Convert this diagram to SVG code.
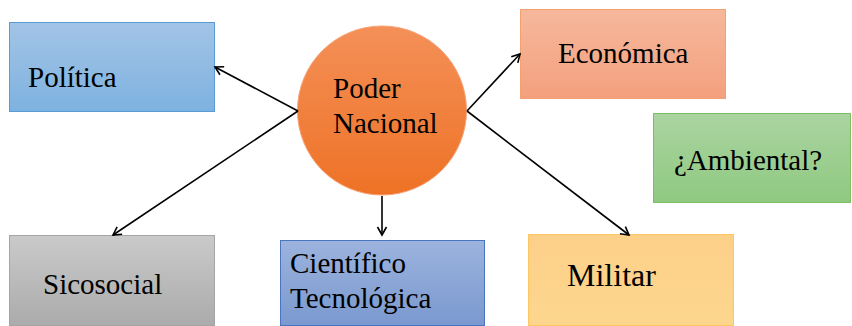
<svg xmlns="http://www.w3.org/2000/svg" width="852" height="326" viewBox="0 0 852 326" font-family="'Liberation Serif', 'DejaVu Serif', serif">
<defs>
<linearGradient id="gBlue" x1="0" y1="0" x2="0" y2="1"><stop offset="0" stop-color="#A2C4E6"/><stop offset="1" stop-color="#7EB2E0"/></linearGradient>
<linearGradient id="gOrange" x1="0" y1="0" x2="0" y2="1"><stop offset="0" stop-color="#F49058"/><stop offset="1" stop-color="#EE7226"/></linearGradient>
<linearGradient id="gSalmon" x1="0" y1="0" x2="0" y2="1"><stop offset="0" stop-color="#F6B89C"/><stop offset="1" stop-color="#F3A07E"/></linearGradient>
<linearGradient id="gGreen" x1="0" y1="0" x2="0" y2="1"><stop offset="0" stop-color="#AAD4A0"/><stop offset="1" stop-color="#8FC981"/></linearGradient>
<linearGradient id="gGray" x1="0" y1="0" x2="0" y2="1"><stop offset="0" stop-color="#CACACA"/><stop offset="1" stop-color="#ABABAB"/></linearGradient>
<linearGradient id="gSteel" x1="0" y1="0" x2="0" y2="1"><stop offset="0" stop-color="#9CB3DD"/><stop offset="1" stop-color="#7A99CF"/></linearGradient>
<linearGradient id="gYellow" x1="0" y1="0" x2="0" y2="1"><stop offset="0" stop-color="#FDD08A"/><stop offset="1" stop-color="#FDD68E"/></linearGradient>
<marker id="arr" markerUnits="userSpaceOnUse" markerWidth="12" markerHeight="12" refX="9" refY="5" orient="auto" overflow="visible">
<path d="M1,0.5 L9,5 L1,9.5" fill="none" stroke="#000" stroke-width="1.6"/>
</marker>
</defs>
<style>
text{font-family:'Liberation Serif','DejaVu Serif',serif;fill:#000;font-size:29px}
.conn line{stroke:#000;stroke-width:1.6;marker-end:url(#arr)}
</style>
<rect width="852" height="326" fill="#fff"/>
<g id="politica">
<rect x="9.5" y="22.5" width="205" height="89" fill="url(#gBlue)" stroke="#5B9BD5"/>
<text x="28" y="87">Política</text>
</g>
<g id="economica">
<rect x="520.5" y="9.5" width="205" height="89" fill="url(#gSalmon)" stroke="#F4A070"/>
<text x="558" y="63">Económica</text>
</g>
<g id="ambiental">
<rect x="653.5" y="113.5" width="197" height="89" fill="url(#gGreen)" stroke="#7BBF62"/>
<text x="674" y="170">¿Ambiental?</text>
</g>
<g id="sicosocial">
<rect x="9.5" y="235.5" width="205" height="90" fill="url(#gGray)" stroke="#A5A5A5"/>
<text x="43" y="294">Sicosocial</text>
</g>
<g id="cientifico">
<rect x="280.5" y="240.5" width="204" height="85" fill="url(#gSteel)" stroke="#4A74C0"/>
<text x="290" y="273">Científico</text>
<text x="290" y="308">Tecnológica</text>
</g>
<g id="militar">
<rect x="528.5" y="234.5" width="205" height="91" fill="url(#gYellow)" stroke="#FDC65E"/>
<text x="567" y="286" style="font-size:32px">Militar</text>
</g>
<g id="poder">
<circle cx="382" cy="110.5" r="84.5" fill="url(#gOrange)" stroke="#F7A377" stroke-width="1"/>
<text x="333" y="98">Poder</text>
<text x="333" y="133">Nacional</text>
</g>
<g class="conn" id="connectors">
<line x1="298" y1="111" x2="215" y2="67"/>
<line x1="298" y1="111" x2="113" y2="235"/>
<line x1="382" y1="196" x2="382" y2="235"/>
<line x1="467" y1="111" x2="520" y2="54"/>
<line x1="467" y1="111" x2="629" y2="235"/>
</g>
</svg>
